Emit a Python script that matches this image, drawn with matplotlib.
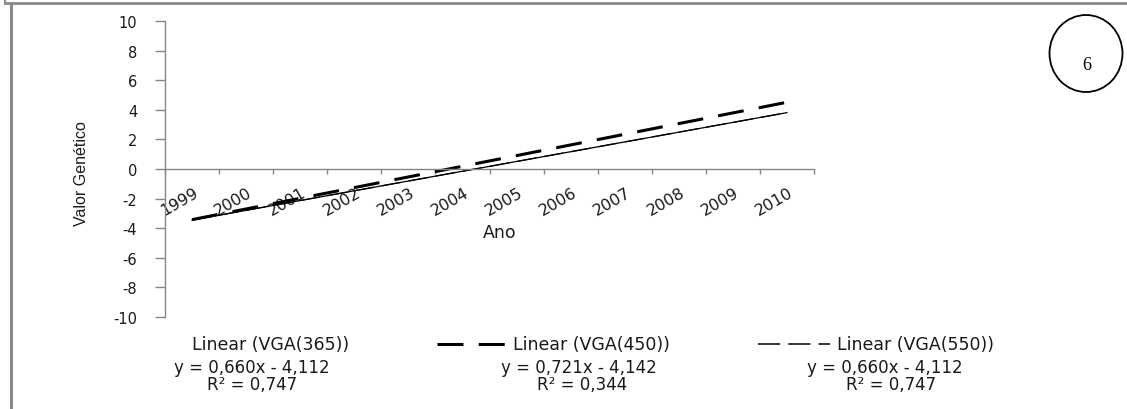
import matplotlib
matplotlib.use("Agg")
import matplotlib.pyplot as plt
import numpy as np
from matplotlib.lines import Line2D
from matplotlib.patches import Ellipse
from matplotlib.transforms import ScaledTranslation
from matplotlib import font_manager

plt.rcParams['axes.unicode_minus'] = False
plt.rcParams['font.family'] = ['DejaVu Sans']

# ---- data ----
years = [1999, 2000, 2001, 2002, 2003, 2004, 2005, 2006, 2007, 2008, 2009, 2010]
series = ['VGA(365)', 'VGA(450)', 'VGA(550)']
slopes = [0.660, 0.721, 0.660]
intercepts = [-4.112, -4.142, -4.112]
r_squared = [0.747, 0.344, 0.747]
y_ticks = [-10, -8, -6, -4, -2, 0, 2, 4, 6, 8, 10]

W, H = 1127, 410
fig = plt.figure(figsize=(W / 100, H / 100), dpi=100)
fig.patch.set_facecolor('white')

def fx(px):
    return px / W

def fy(py):
    return 1 - py / H

ax = fig.add_axes([fx(165), fy(318), fx(814) - fx(165), fy(22) - fy(318)])
ax.set_facecolor('none')

gray = '#868686'
txtc = '#1a1a1a'

# trend lines (Excel category index 1..n)
xi = np.arange(1, len(years) + 1)
styles = [
    dict(color='black', lw=0.9, ls='-'),
    dict(color='black', lw=2.2, ls=(0, (8.5, 5.0))),
    dict(color='black', lw=0.9, ls=(0, (16, 6))),
]
legend_styles = [
    None,
    dict(color='black', lw=2.2, ls=(0, (8.5, 5.0))),
    dict(color='black', lw=1.1, ls=(0, (14.5, 5.3))),
]
lines = []
for s, b, a, st in zip(series, slopes, intercepts, styles):
    ends = np.array([xi[0], xi[-1]])
    ln, = ax.plot(ends, b * ends + a, label='Linear (%s)' % s, **st)
    lines.append(ln)

ax.set_xlim(0.5, len(years) + 0.5)
ax.set_ylim(-10, 10)

for side in ['top', 'right']:
    ax.spines[side].set_visible(False)
ax.spines['bottom'].set_position(('data', 0))
for side in ['left', 'bottom']:
    ax.spines[side].set_color(gray)
    ax.spines[side].set_linewidth(1.0)

ax.set_yticks(y_ticks)
ax.set_yticklabels([str(v) for v in y_ticks])
ax.tick_params(axis='y', direction='out', length=7, width=1, color=gray,
               pad=13, labelsize=10.5, labelcolor=txtc)

ax.set_xticks(xi)
ax.set_xticklabels([str(y) for y in years], rotation=30, ha='right', va='center',
                   rotation_mode='anchor')
ax.set_xticks(np.arange(0.5, len(years) + 1, 1.0), minor=True)
ax.tick_params(axis='x', which='major', length=0, pad=15.5, labelsize=11.5,
               labelcolor=txtc)
ax.tick_params(axis='x', which='minor', direction='out', length=3.5, width=1,
               color=gray)
offset = ScaledTranslation(5 / 100, 0, fig.dpi_scale_trans)
for lab in ax.get_xticklabels():
    lab.set_transform(lab.get_transform() + offset)

installed = {f.name for f in font_manager.fontManager.ttflist}
if 'Liberation Sans Narrow' in installed:
    yl_family, yl_size = 'Liberation Sans Narrow', 13
else:
    yl_family, yl_size = 'Liberation Sans', 11.5
ax.set_ylabel('Valor Genético', family=[yl_family, 'DejaVu Sans'],
              fontsize=yl_size, color=txtc, va='center')
ax.yaxis.set_label_coords((81 - 165) / 649, (318 - 174) / 296)
ax.set_xlabel('Ano', fontsize=12.5, color=txtc, va='center')
ax.xaxis.set_label_coords((500 - 165) / 649, (318 - 233) / 296)

# ---- legend (manual, below plot) ----
leg_y = 345
text_x = [192, 513, 837]
handle_x = [None, (437, 505), (758, 830)]
for i, ln in enumerate(lines):
    fig.text(fx(text_x[i]), fy(leg_y), ln.get_label(), fontsize=12.5, color=txtc,
             ha='left', va='center')
    if handle_x[i] is not None:
        x0, x1 = handle_x[i]
        st = legend_styles[i]
        fig.add_artist(Line2D([fx(x0), fx(x1)], [fy(leg_y), fy(leg_y)],
                              transform=fig.transFigure, color=st['color'],
                              lw=st['lw'], ls=st['ls']))

# ---- trendline equations ----
eq_x = [252, 579, 885]
r2_x = [252, 582, 891]
for i in range(len(series)):
    sign = '-' if intercepts[i] < 0 else '+'
    eq = 'y = %.3fx %s %.3f' % (slopes[i], sign, abs(intercepts[i]))
    eq = eq.replace('.', ',')
    r2 = ('R² = %.3f' % r_squared[i]).replace('.', ',')
    fig.text(fx(eq_x[i]), fy(368), eq, fontsize=12, color=txtc,
             ha='center', va='center')
    fig.text(fx(r2_x[i]), fy(385), r2, fontsize=12, color=txtc,
             ha='center', va='center')

# ---- page border lines ----
fig.add_artist(Line2D([fx(5), fx(W)], [fy(4), fy(4)], transform=fig.transFigure,
                      color='#8a8a8a', lw=2))
fig.add_artist(Line2D([fx(5), fx(5)], [fy(0), fy(4)], transform=fig.transFigure,
                      color='#8a8a8a', lw=1.5))
fig.add_artist(Line2D([fx(11), fx(11)], [fy(5), fy(H)], transform=fig.transFigure,
                      color='#8a8a8a', lw=2.2))

# ---- circled number ----
fig.add_artist(Ellipse((fx(1086), fy(54.5)), width=fx(73), height=77 / H,
                       transform=fig.transFigure, fill=False, edgecolor='black', lw=1.3))
fig.text(fx(1087), fy(65), '6', family=['Liberation Serif', 'DejaVu Serif'],
         fontsize=13, color='black', ha='center', va='center')

fig.savefig('out.png', dpi=100, facecolor='white')
